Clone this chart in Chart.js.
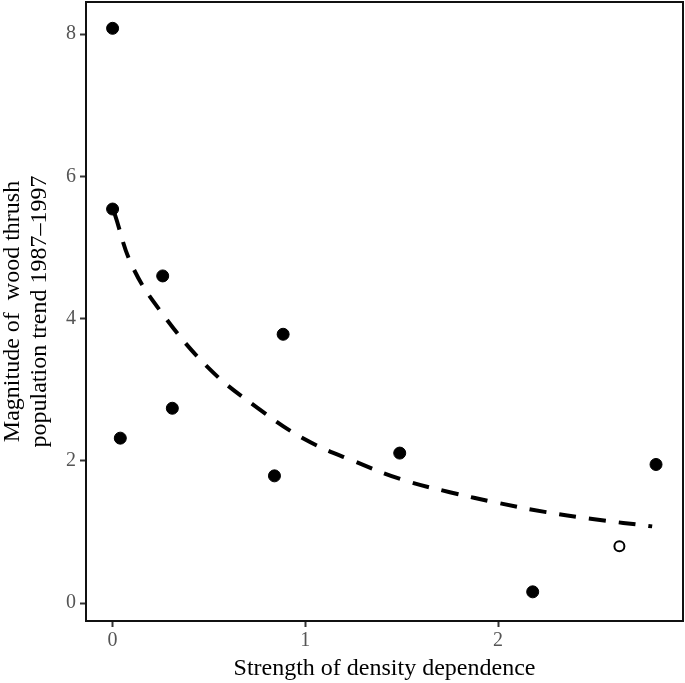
<!DOCTYPE html>
<html lang="en">
<head>
<meta charset="UTF-8">
<title>Wood thrush trend vs density dependence</title>
<script src="https://cdn.jsdelivr.net/npm/chart.js"></script>
<style>
  html, body { margin: 0; padding: 0; background: #fff; overflow: hidden; }
  #outer { width: 685px; height: 683px; overflow: hidden; }
  #wrap { width: 690px; height: 697px; margin-top: -14px; }
</style>
</head>
<body>
<div id="outer"><div id="wrap"><canvas id="myChart"></canvas></div></div>
<script>
// observed points (filled)
const strength = [0.0, 0.0, 0.04, 0.26, 0.31, 0.84, 0.885, 1.49, 2.18, 2.82];
const magnitude = [8.08, 5.54, 2.32, 4.60, 2.74, 1.79, 3.78, 2.11, 0.16, 1.95];
// open point
const openStrength = [2.63];
const openMagnitude = [0.80];
// fitted curve
const fitX = [0.01, 0.1, 0.25, 0.5, 0.75, 1.0, 1.25, 1.5, 1.75, 2.0, 2.25, 2.5, 2.8];
const fitY = [5.48, 4.75, 4.1, 3.3, 2.75, 2.3, 2.0, 1.74, 1.56, 1.41, 1.28, 1.18, 1.08];
const xTicks = [0, 1, 2];
const yTicks = [0, 2, 4, 6, 8];

const toXY = (xs, ys) => xs.map((x, i) => ({ x: x, y: ys[i] }));

const frame = {
    id: 'frame',
    afterDraw(chart) {
        const a = chart.chartArea, c = chart.ctx;
        c.save();
        c.strokeStyle = '#111';
        c.lineWidth = 2;
        c.strokeRect(a.left, a.top, a.right - a.left, a.bottom - a.top);
        c.restore();
    }
};

const ctx = document.getElementById('myChart').getContext('2d');
new Chart(ctx, {
    type: 'scatter',
    data: {
        datasets: [
            {
                type: 'line',
                data: toXY(fitX, fitY),
                borderColor: '#000',
                borderWidth: 4,
                borderDash: [17, 13],
                pointRadius: 0,
                tension: 0.4,
                fill: false,
                order: 2
            },
            {
                data: toXY(strength, magnitude),
                backgroundColor: '#000',
                borderColor: '#000',
                pointRadius: 6,
                order: 1
            },
            {
                data: toXY(openStrength, openMagnitude),
                backgroundColor: '#fff',
                borderColor: '#000',
                borderWidth: 2,
                pointRadius: 5,
                order: 1
            }
        ]
    },
    options: {
        responsive: true,
        maintainAspectRatio: false,
        animation: false,
        layout: { padding: 0 },
        plugins: { legend: { display: false }, tooltip: { enabled: false } },
        scales: {
            x: {
                type: 'linear',
                min: -0.138,
                max: 2.96,
                afterBuildTicks: s => { s.ticks = xTicks.map(v => ({ value: v })); },
                afterFit: s => { s.height = 62; },
                grid: { drawOnChartArea: false, drawTicks: true, tickLength: 6, tickWidth: 2, color: '#333' },
                border: { display: false },
                ticks: { color: '#555', padding: 2, font: { family: 'Liberation Serif', size: 20 } },
                title: {
                    display: true,
                    text: 'Strength of density dependence',
                    color: '#000',
                    padding: { top: 0, bottom: 0 },
                    font: { family: 'Liberation Serif', size: 24 }
                }
            },
            y: {
                type: 'linear',
                min: -0.25,
                max: 8.45,
                afterBuildTicks: s => { s.ticks = yTicks.map(v => ({ value: v })); },
                afterFit: s => { s.width = 86; },
                grid: { drawOnChartArea: false, drawTicks: true, tickLength: 6, tickWidth: 2, color: '#333' },
                border: { display: false },
                ticks: { color: '#555', padding: 4, font: { family: 'Liberation Serif', size: 20 } },
                title: {
                    display: true,
                    text: ['Magnitude of  wood thrush', 'population trend 1987\u20131997'],
                    color: '#000',
                    padding: { top: 0, bottom: 2 },
                    font: { family: 'Liberation Serif', size: 24, lineHeight: 1.1 }
                }
            }
        }
    },
    plugins: [frame]
});
</script>
</body>
</html>
